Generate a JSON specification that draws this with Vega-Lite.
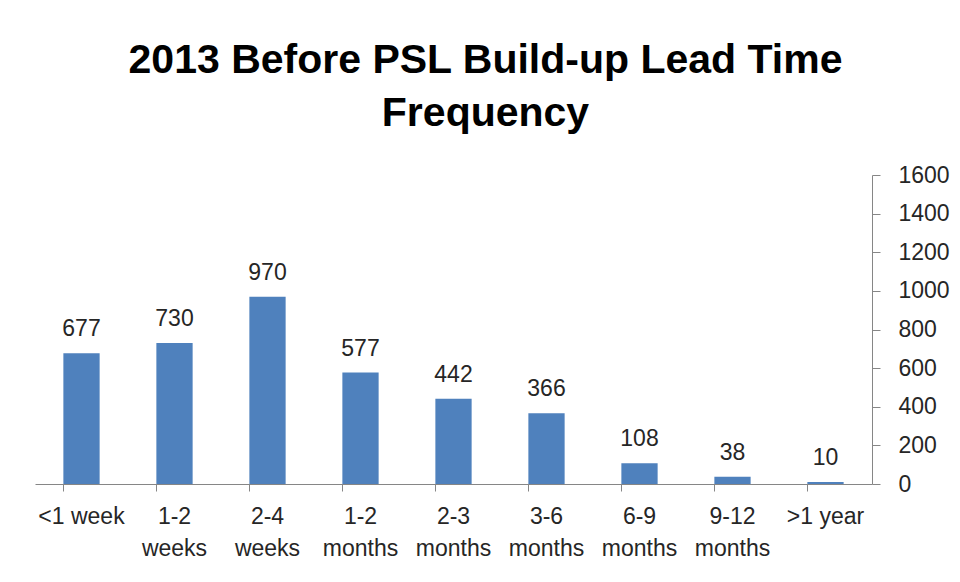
{
  "$schema": "https://vega.github.io/schema/vega-lite/v6.json",
  "autosize": "none",
  "width": 837,
  "height": 309,
  "padding": {"left": 35, "top": 175, "right": 88, "bottom": 98},
  "background": "white",
  "title": {
    "text": ["2013 Before PSL Build-up Lead Time", "Frequency"],
    "font": "Liberation Sans",
    "fontSize": 41,
    "fontWeight": "bold",
    "color": "#000000",
    "anchor": "middle",
    "dx": 32,
    "offset": 29,
    "lineHeight": 53
  },
  "data": {
    "values": [
      {"cat": "<1 week", "n": 677},
      {"cat": "1-2\nweeks", "n": 730},
      {"cat": "2-4\nweeks", "n": 970},
      {"cat": "1-2\nmonths", "n": 577},
      {"cat": "2-3\nmonths", "n": 442},
      {"cat": "3-6\nmonths", "n": 366},
      {"cat": "6-9\nmonths", "n": 108},
      {"cat": "9-12\nmonths", "n": 38},
      {"cat": ">1 year", "n": 10}
    ]
  },
  "encoding": {
    "x": {
      "field": "cat",
      "type": "nominal",
      "sort": null,
      "scale": {"paddingInner": 0.61, "paddingOuter": 0.305},
      "axis": {
        "title": null,
        "labelAngle": 0,
        "labelExpr": "split(datum.value, '\\n')",
        "labelFont": "Liberation Sans",
        "labelFontSize": 23,
        "labelColor": "#262626",
        "labelLineHeight": 32,
        "labelPadding": 14,
        "labelBaseline": "top",
        "tickSize": 7,
        "tickColor": "#868686",
        "domainColor": "#868686",
        "bandPosition": 0,
        "ticks": true
      }
    },
    "y": {
      "field": "n",
      "type": "quantitative",
      "scale": {"domain": [0, 1600], "nice": false},
      "axis": {
        "orient": "right",
        "title": null,
        "grid": false,
        "format": "d",
        "values": [0, 200, 400, 600, 800, 1000, 1200, 1400, 1600],
        "labelFont": "Liberation Sans",
        "labelFontSize": 23,
        "labelColor": "#262626",
        "labelPadding": 18,
        "tickSize": 8,
        "tickColor": "#868686",
        "domainColor": "#868686"
      }
    }
  },
  "layer": [
    {"mark": {"type": "bar", "color": "#4F81BD"}},
    {
      "mark": {
        "type": "text",
        "baseline": "alphabetic",
        "dy": -17,
        "font": "Liberation Sans",
        "fontSize": 23,
        "color": "#262626"
      },
      "encoding": {"text": {"field": "n", "type": "quantitative"}}
    }
  ],
  "config": {"view": {"stroke": null}}
}
